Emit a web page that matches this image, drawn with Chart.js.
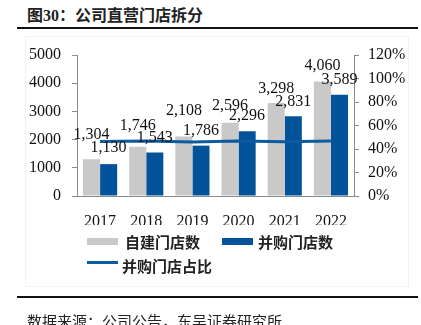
<!DOCTYPE html>
<html>
<head>
<meta charset="utf-8">
<script src="https://cdn.jsdelivr.net/npm/chart.js@4/dist/chart.umd.min.js"></script>
<style>
  html, body { margin: 0; padding: 0; background: #fff; }
  body { width: 421px; height: 325px; position: relative; overflow: hidden; }
  #wrap { position: absolute; left: 0; top: 0; width: 421px; height: 325px; }
  .title { position: absolute; left: 27px; top: 4px; font: bold 16px "Liberation Serif", "Noto Sans CJK SC", serif; color: #222; white-space: nowrap; line-height: 20px; }
  .title .cn { font-family: "Noto Sans CJK SC", sans-serif; font-weight: 700; }
  .rule { position: absolute; left: 17px; width: 401px; height: 2px; background: #111; }
  .frame { position: absolute; left: 25px; top: 36px; width: 382px; height: 249px; border: 1px solid #f3f3f3; }
  .lg { position: absolute; font: bold 15px "Noto Sans CJK SC", sans-serif; color: #222; line-height: 18px; white-space: nowrap; }
  .sw { position: absolute; }
  .src { position: absolute; left: 27px; top: 312px; font: 15px "Noto Sans CJK SC", sans-serif; color: #222; line-height: 18px; white-space: nowrap; }
</style>
</head>
<body>
<div class="frame"></div>
<div class="title">图30：<span class="cn">公司直营门店拆分</span></div>
<div class="rule" style="top:27px"></div>
<div id="wrap"><canvas id="c"></canvas></div>
<div class="sw" style="left:87px; top:238px; width:31px; height:7px; background:#C9C9C9"></div>
<div class="lg" style="left:125px; top:233px">自建门店数</div>
<div class="sw" style="left:222px; top:238px; width:31px; height:7px; background:#02539A"></div>
<div class="lg" style="left:258px; top:233px">并购门店数</div>
<div class="sw" style="left:87px; top:261px; width:31px; height:3px; background:#0B5BA1"></div>
<div class="lg" style="left:122px; top:257px">并购门店占比</div>
<div class="rule" style="top:296px"></div>
<div class="src">数据来源：公司公告，东吴证券研究所</div>
<script>
const years = ['2017', '2018', '2019', '2020', '2021', '2022'];
const selfBuilt = [1304, 1746, 2108, 2596, 3298, 4060];
const acquired = [1130, 1543, 1786, 2296, 2831, 3589];
const acquiredShare = [46.4, 46.9, 45.9, 46.9, 46.2, 46.9];
const leftTicks = [0, 1000, 2000, 3000, 4000, 5000];
const rightTicks = [0, 20, 40, 60, 80, 100, 120];

const GREY = '#C9C9C9';
const BLUE = '#02539A';
const LINE = '#0B5BA1';
const NUMFONT = '"Liberation Serif", "Times New Roman", serif';

// vertical distance (px) from bar top to label centre
const labelRaise = [
  [24, 21, 26, 17, 14, 16],
  [16, 15, 15, 15, 14, 15]
];

const valueLabels = {
  id: 'valueLabels',
  afterDatasetsDraw(chart) {
    const ctx = chart.ctx;
    ctx.save();
    ctx.font = '16px ' + NUMFONT;
    ctx.fillStyle = '#111';
    ctx.textAlign = 'center';
    ctx.textBaseline = 'middle';
    [0, 1].forEach(di => {
      const meta = chart.getDatasetMeta(di);
      const data = chart.data.datasets[di].data;
      meta.data.forEach((bar, i) => {
        ctx.fillText(data[i].toLocaleString('en-US'), bar.x, bar.y - labelRaise[di][i]);
      });
    });
    ctx.restore();
  }
};

new Chart(document.getElementById('c'), {
  data: {
    labels: years,
    datasets: [
      { type: 'bar', label: '自建门店数', data: selfBuilt, backgroundColor: GREY, yAxisID: 'y', order: 2,
        categoryPercentage: 0.74, barPercentage: 1.0 },
      { type: 'bar', label: '并购门店数', data: acquired, backgroundColor: BLUE, yAxisID: 'y', order: 2,
        categoryPercentage: 0.74, barPercentage: 1.0 },
      { type: 'line', label: '并购门店占比', data: acquiredShare, borderColor: LINE, backgroundColor: LINE,
        borderWidth: 3, pointRadius: 0, tension: 0, yAxisID: 'y1', order: 1 }
    ]
  },
  options: {
    responsive: true,
    maintainAspectRatio: false,
    animation: false,
    events: [],
    layout: { padding: { top: 55, bottom: 100, left: 0, right: 0 } },
    plugins: { legend: { display: false }, tooltip: { enabled: false } },
    scales: {
      x: {
        grid: { display: false },
        border: { display: true, color: '#8c8c8c', width: 1 },
        ticks: { color: '#111', font: { family: NUMFONT, size: 16 }, padding: 8 },
        afterFit(s) { s.height = 29; }
      },
      y: {
        position: 'left',
        min: 0, max: 5000,
        afterBuildTicks(s) { s.ticks = leftTicks.map(v => ({ value: v })); },
        grid: { display: true, drawOnChartArea: false, drawTicks: true, tickLength: 5, color: '#8c8c8c' },
        border: { display: true, color: '#8c8c8c', width: 1 },
        ticks: { color: '#111', font: { family: NUMFONT, size: 16 }, padding: 11, callback: v => String(v) },
        afterFit(s) { s.width = 77; }
      },
      y1: {
        position: 'right',
        min: 0, max: 120,
        afterBuildTicks(s) { s.ticks = rightTicks.map(v => ({ value: v })); },
        grid: { display: true, drawOnChartArea: false, drawTicks: true, tickLength: 5, color: '#8c8c8c' },
        border: { display: true, color: '#8c8c8c', width: 1 },
        ticks: { color: '#111', font: { family: NUMFONT, size: 16 }, padding: 9, callback: v => v + '%' },
        afterFit(s) { s.width = 67; }
      }
    }
  },
  plugins: [valueLabels]
});
</script>
</body>
</html>
